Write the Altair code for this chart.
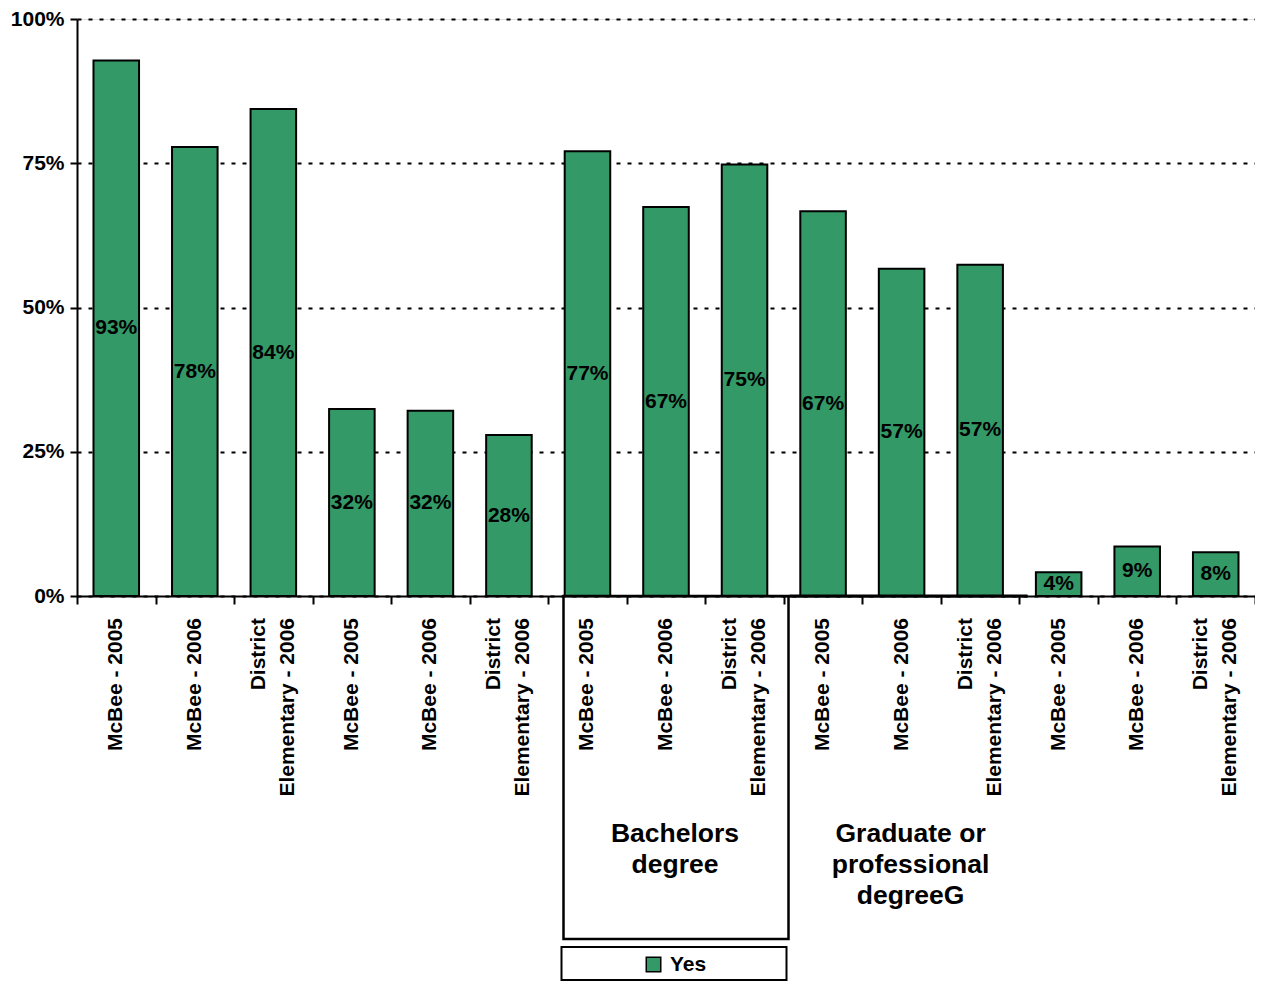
import altair as alt
import pandas as pd

# ---- data ----
categories = ["McBee - 2005", "McBee - 2006", "District\nElementary - 2006"] * 5
values = [92.8, 77.8, 84.4, 32.4, 32.1, 27.9, 77.1, 67.4, 74.8, 66.7, 56.7, 57.4, 4.1, 8.6, 7.6]
series_name = "Yes"
y_ticks = [0, 25, 50, 75, 100]
group_names = ["Bachelors\ndegree", "Graduate or\nprofessional\ndegreeG"]
group_mid_index = [7, 10]

FONT = "Liberation Sans"
GREEN = "#339966"

keys = [f"{i:02d}|{c}" for i, c in enumerate(categories)]
df = pd.DataFrame({
    "key": keys,
    "value": values,
    "series": [series_name] * len(keys),
    "cat": categories,
    "multi": ["\n" in c for c in categories],
})

x_enc = alt.X(
    "key:N",
    sort="ascending",
    scale=alt.Scale(paddingInner=0, paddingOuter=0),
    axis=alt.Axis(
        title=None,
        labels=False,
        tickSize=8,
        tickWidth=2,
        tickColor="black",
        tickBand="extent",
        domainColor="black",
        domainWidth=2,
        zindex=1,
    ),
)

y_scale = alt.Scale(domain=[0, 100], nice=False)
y_axis = alt.Axis(
    title=None,
    values=y_ticks,
    labelExpr="datum.value + '%'",
    labelFont=FONT,
    labelFontSize=21,
    labelFontWeight="bold",
    labelColor="black",
    labelPadding=6,
    tickSize=7,
    tickWidth=2,
    tickColor="black",
    domainColor="black",
    domainWidth=2,
    grid=True,
    gridColor="black",
    gridDash=[4, 7],
    gridWidth=2,
    gridOpacity=1,
)

base = alt.Chart(df)

bars = base.mark_bar(stroke="black", strokeWidth=2, width={"band": 0.58}).encode(
    x=x_enc,
    y=alt.Y("value:Q", scale=y_scale, axis=y_axis),
    color=alt.Color(
        "series:N",
        scale=alt.Scale(domain=[series_name], range=[GREEN]),
        legend=alt.Legend(
            title=None,
            orient="none",
            legendX=566,
            legendY=935,
            padding=0,
            symbolType="square",
            symbolSize=210,
            symbolStrokeColor="black",
            symbolStrokeWidth=1.5,
            labelFont=FONT,
            labelFontSize=21,
            labelFontWeight="bold",
            labelColor="black",
            labelOffset=6,
        ),
    ),
)

value_labels = base.transform_calculate(
    mid="datum.value / 2",
    label="format(datum.value, '.0f') + '%'",
).mark_text(font=FONT, fontSize=21, fontWeight="bold", color="black", baseline="middle").encode(
    x=x_enc,
    y=alt.Y("mid:Q", scale=y_scale),
    text="label:N",
)

cat_text_style = dict(font=FONT, fontSize=21, fontWeight="bold", color="black",
                      angle=270, align="right", baseline="middle")
cat_single = base.transform_filter("!datum.multi").mark_text(**cat_text_style).encode(
    x=x_enc, y=alt.value(599), text="cat:N"
)
cat_multi = base.transform_filter("datum.multi").mark_text(
    **cat_text_style, lineBreak="\n", lineHeight=29, dy=-14.5
).encode(x=x_enc, y=alt.value(599), text="cat:N")

gdf = pd.DataFrame({"key": [keys[i] for i in group_mid_index], "name": group_names})
group_text = alt.Chart(gdf).mark_text(
    font=FONT, fontSize=26.5, fontWeight="bold", color="black",
    lineBreak="\n", lineHeight=31, baseline="alphabetic", align="center", dx=9,
).encode(x=x_enc, y=alt.value(823), text="name:N")

box_df = pd.DataFrame({"key": [keys[group_mid_index[0]]]})
bach_box = alt.Chart(box_df).mark_rect(
    fillOpacity=0, stroke="black", strokeWidth=2.5, width=225, xOffset=10
).encode(x=x_enc, y=alt.value(577), y2=alt.value(920))

legend_box = alt.Chart(box_df).mark_rect(
    fillOpacity=0, stroke="black", strokeWidth=2, width=225, xOffset=8
).encode(x=x_enc, y=alt.value(928), y2=alt.value(961))

grad_df = pd.DataFrame({"key": [keys[group_mid_index[1]]]})
grad_line = alt.Chart(grad_df).mark_rect(color="black", width=238, xOffset=7).encode(
    x=x_enc, y=alt.value(575.5), y2=alt.value(578.5)
)

chart = alt.layer(
    bars, value_labels, cat_single, cat_multi, bach_box, grad_line, legend_box, group_text
).properties(
    width=1178,
    height=577,
    autosize=alt.AutoSizeParams(type="none"),
    padding={"left": 69, "top": 11, "right": 0, "bottom": 387},
).configure_view(stroke=None).configure(font=FONT)

chart.save("out.html", embed_options={"renderer": "svg", "actions": False})
